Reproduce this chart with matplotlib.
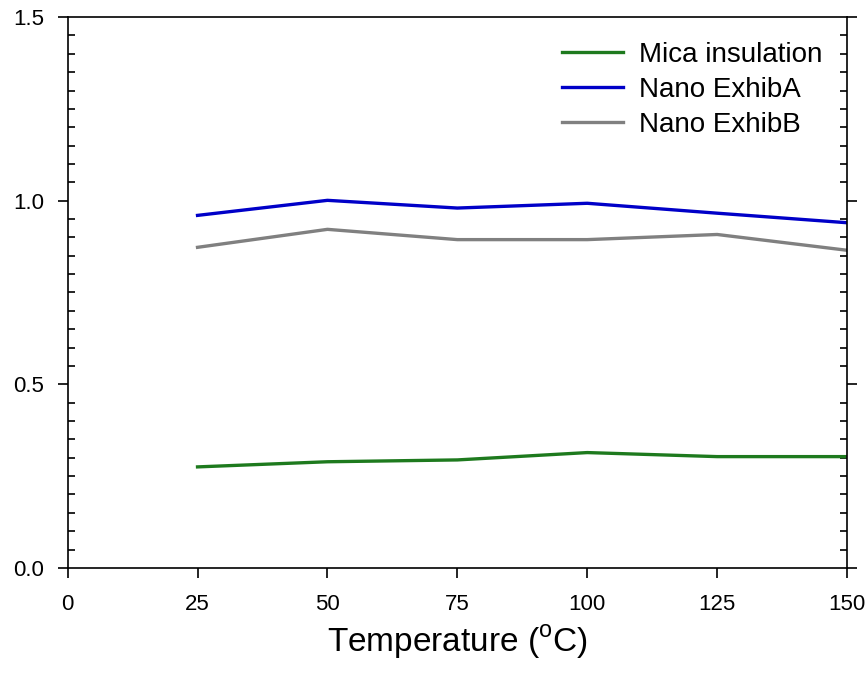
import matplotlib.pyplot as plt
import numpy as np
from matplotlib.ticker import MultipleLocator

plt.rcParams['font.family'] = ['Liberation Sans', 'DejaVu Sans']

# temperatures (deg C) and the three measured series
temperature = [25, 50, 75, 100, 125, 150]
mica = [0.275, 0.289, 0.294, 0.314, 0.303, 0.303]
nano_a = [0.960, 1.001, 0.980, 0.993, 0.966, 0.940]
nano_b = [0.873, 0.922, 0.894, 0.894, 0.908, 0.865]

labels = ['Mica insulation', 'Nano ExhibA', 'Nano ExhibB']
colors = ['#1e7a1e', '#0000c8', '#808080']

fig = plt.figure(figsize=(8.67, 6.85), dpi=100)
ax = fig.add_axes([0.078, 0.171, 0.899, 0.804])

for series, label, color in zip([mica, nano_a, nano_b], labels, colors):
    ax.plot(temperature, series, color=color, linewidth=2.4, label=label)

ax.set_xlim(0, 150)
ax.set_ylim(0, 1.5)
ax.xaxis.set_major_locator(MultipleLocator(25))
ax.yaxis.set_major_locator(MultipleLocator(0.5))
ax.yaxis.set_minor_locator(MultipleLocator(0.05))
ax.yaxis.set_major_formatter(lambda v, pos: f'{v:.1f}')

ax.tick_params(axis='x', which='major', direction='out', length=7, width=1.2,
               labelsize=16, pad=12)
ax.tick_params(axis='y', which='major', direction='out', length=7, width=1.2,
               labelsize=16, pad=10, right=True)
ax.tick_params(axis='y', which='minor', direction='in', length=5, width=1.2, right=True)
for s in ax.spines.values():
    s.set_linewidth(1.2)

ax.set_xlabel('Temperature ($^\\mathregular{o}$C)', fontsize=24, labelpad=6)

ax.legend(loc='upper right', bbox_to_anchor=(1.0, 1.0), frameon=False, fontsize=20,
          handlelength=2.2, handletextpad=0.55, labelspacing=0.32)

fig.savefig('out.png', dpi=100)
